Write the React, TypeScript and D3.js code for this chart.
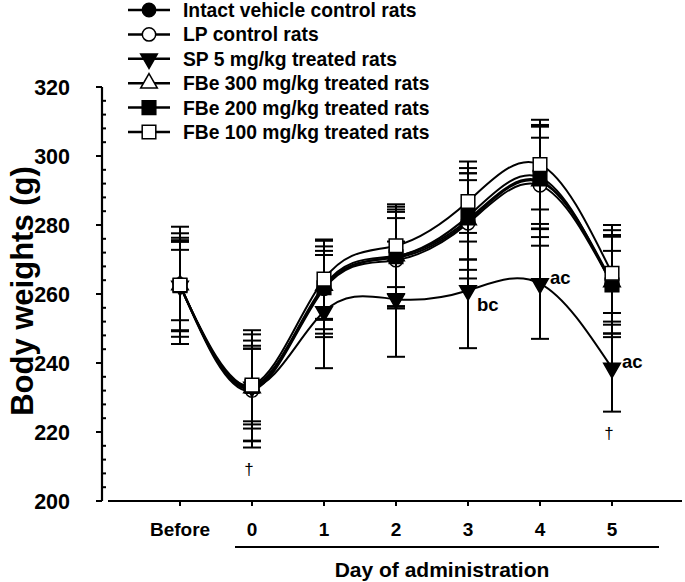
import React, { useEffect, useRef } from 'react';
import * as d3 from 'd3';

// x categories
const days = ['Before', '0', '1', '2', '3', '4', '5'];

// mean body weights (g)
const intactMean = [262.8, 232.5, 262.0, 270.5, 281.0, 292.5, 263.0];
const lpMean = [262.5, 232.0, 261.5, 269.8, 280.5, 291.5, 262.8];
const spMean = [262.3, 233.0, 254.9, 258.5, 261.0, 263.0, 238.5];
const fbe300Mean = [262.6, 232.8, 262.5, 271.0, 281.5, 292.8, 263.5];
const fbe200Mean = [262.4, 233.2, 261.8, 270.8, 282.5, 293.8, 262.6];
const fbe100Mean = [262.6, 233.6, 264.3, 274.0, 286.8, 297.5, 266.0];

// standard deviations
const intactSd = [13.5, 17.0, 13.5, 14.0, 14.0, 16.0, 15.5];
const lpSd = [17.0, 14.5, 14.0, 14.0, 16.0, 17.5, 14.3];
const spSd = [12.8, 12.0, 16.4, 16.7, 16.7, 16.0, 12.6];
const fbe300Sd = [10.2, 15.5, 10.0, 11.0, 11.5, 12.5, 9.0];
const fbe200Sd = [13.2, 11.0, 12.0, 14.5, 12.5, 15.0, 14.0];
const fbe100Sd = [15.0, 10.5, 11.5, 12.0, 11.6, 13.0, 14.0];

const seriesNames = [
  'Intact vehicle control rats',
  'LP control rats',
  'SP 5 mg/kg treated rats',
  'FBe 300 mg/kg treated rats',
  'FBe 200 mg/kg treated rats',
  'FBe 100 mg/kg treated rats',
];

const yTicks = [200, 220, 240, 260, 280, 300, 320];

// significance marks on the SP series
const spNotes = [
  { day: '3', text: 'bc' },
  { day: '4', text: 'ac' },
  { day: '5', text: 'ac' },
];
const daggerDays = ['0', '5'];

const FONT = '"Liberation Sans", Arial, Helvetica, sans-serif';

const App = () => {
  const svgRef = useRef<SVGSVGElement>(null);

  useEffect(() => {
    const svg = d3.select(svgRef.current);
    svg.selectAll('*').remove();

    const width = 685;
    const height = 582;
    svg.attr('width', width).attr('height', height);

    const x = d3.scalePoint<string>().domain(days).range([180, 612]);
    const y = d3.scaleLinear().domain([200, 320]).range([501, 87]);

    const series = [
      { name: seriesNames[0], mean: intactMean, sd: intactSd, shape: 'circle', fill: '#000' },
      { name: seriesNames[1], mean: lpMean, sd: lpSd, shape: 'circle', fill: '#fff' },
      { name: seriesNames[2], mean: spMean, sd: spSd, shape: 'triDown', fill: '#000' },
      { name: seriesNames[3], mean: fbe300Mean, sd: fbe300Sd, shape: 'triUp', fill: '#fff' },
      { name: seriesNames[4], mean: fbe200Mean, sd: fbe200Sd, shape: 'square', fill: '#000' },
      { name: seriesNames[5], mean: fbe100Mean, sd: fbe100Sd, shape: 'square', fill: '#fff' },
    ];

    const symbolFor = (shape: string) => {
      if (shape === 'circle') return d3.symbol().type(d3.symbolCircle).size(140)();
      if (shape === 'square') return d3.symbol().type(d3.symbolSquare).size(185)();
      return d3.symbol().type(d3.symbolTriangle).size(120)();
    };

    const drawMarker = (g: any, shape: string, fill: string, cx: number, cy: number) => {
      g.append('path')
        .attr('d', symbolFor(shape))
        .attr('transform', `translate(${cx},${cy})${shape === 'triDown' ? ' rotate(180)' : ''}`)
        .attr('fill', fill)
        .attr('stroke', '#000')
        .attr('stroke-width', 1.5);
    };

    // y axis: major ticks outward, minor ticks inward
    const axisX = 102;
    const yAxis = svg.append('g');
    yAxis.append('line')
      .attr('x1', axisX).attr('x2', axisX)
      .attr('y1', y(320)).attr('y2', y(200))
      .attr('stroke', '#000').attr('stroke-width', 2.2);
    yAxis.selectAll('.major')
      .data(yTicks)
      .join('line')
      .attr('x1', axisX - 6).attr('x2', axisX)
      .attr('y1', d => y(d)).attr('y2', d => y(d))
      .attr('stroke', '#000').attr('stroke-width', 2);
    yAxis.selectAll('.minor')
      .data(d3.range(200, 320, 4).filter(v => v % 20 !== 0))
      .join('line')
      .attr('x1', axisX).attr('x2', axisX + 4)
      .attr('y1', d => y(d)).attr('y2', d => y(d))
      .attr('stroke', '#000').attr('stroke-width', 2);
    yAxis.selectAll('text')
      .data(yTicks)
      .join('text')
      .attr('x', 70)
      .attr('y', d => y(d))
      .attr('dy', '0.36em')
      .attr('text-anchor', 'end')
      .attr('font-family', FONT)
      .attr('font-weight', 'bold')
      .attr('font-size', 21.5)
      .text(d => d);

    svg.append('text')
      .attr('transform', `translate(33,291) rotate(-90)`)
      .attr('text-anchor', 'middle')
      .attr('font-family', FONT)
      .attr('font-weight', 'bold')
      .attr('font-size', 31)
      .text('Body weights (g)');

    // x axis
    const xAxis = svg.append('g');
    xAxis.append('line')
      .attr('x1', 108).attr('x2', 682)
      .attr('y1', 501).attr('y2', 501)
      .attr('stroke', '#000').attr('stroke-width', 2.2);
    xAxis.selectAll('.tick')
      .data(days)
      .join('line')
      .attr('x1', d => x(d)!).attr('x2', d => x(d)!)
      .attr('y1', 501).attr('y2', 506)
      .attr('stroke', '#000').attr('stroke-width', 2);
    xAxis.selectAll('text')
      .data(days)
      .join('text')
      .attr('x', d => x(d)!)
      .attr('y', 536)
      .attr('text-anchor', 'middle')
      .attr('font-family', FONT)
      .attr('font-weight', 'bold')
      .attr('font-size', 19)
      .text(d => d);
    xAxis.append('line')
      .attr('x1', 235).attr('x2', 659)
      .attr('y1', 547).attr('y2', 547)
      .attr('stroke', '#000').attr('stroke-width', 2);
    xAxis.append('text')
      .attr('x', 442)
      .attr('y', 577)
      .attr('text-anchor', 'middle')
      .attr('font-family', FONT)
      .attr('font-weight', 'bold')
      .attr('font-size', 21)
      .text('Day of administration');

    // series: error bars, spline line, markers
    const line = d3.line<number>()
      .x((_, i) => x(days[i])!)
      .y(d => y(d))
      .curve(d3.curveNatural);

    series.forEach(s => {
      const g = svg.append('g');
      s.mean.forEach((m, i) => {
        const cx = x(days[i])!;
        const top = y(m + s.sd[i]);
        const bot = y(m - s.sd[i]);
        g.append('line')
          .attr('x1', cx).attr('x2', cx).attr('y1', top).attr('y2', bot)
          .attr('stroke', '#000').attr('stroke-width', 2);
        [top, bot].forEach(cy => {
          g.append('line')
            .attr('x1', cx - 9).attr('x2', cx + 9).attr('y1', cy).attr('y2', cy)
            .attr('stroke', '#000').attr('stroke-width', 2);
        });
      });
      g.append('path')
        .datum(s.mean)
        .attr('d', line)
        .attr('fill', 'none')
        .attr('stroke', '#000')
        .attr('stroke-width', 2);
      s.mean.forEach((m, i) => drawMarker(g, s.shape, s.fill, x(days[i])!, y(m)));
    });

    // significance letters and daggers
    spNotes.forEach(n => {
      const i = days.indexOf(n.day);
      const below = n.day === '3';
      svg.append('text')
        .attr('x', x(n.day)! + (below ? 9 : 10))
        .attr('y', y(spMean[i]) + (below ? 20 : 0))
        .attr('fill', '#000')
        .attr('font-family', FONT)
        .attr('font-weight', 'bold')
        .attr('font-size', 18.5)
        .text(n.text);
    });
    daggerDays.forEach(dd => {
      const i = days.indexOf(dd);
      const lowest = d3.min(series, s => s.mean[i] - s.sd[i])!;
      svg.append('text')
        .attr('x', x(dd)! - 3)
        .attr('y', y(lowest) + 27)
        .attr('text-anchor', 'middle')
        .attr('fill', '#000')
        .attr('font-family', FONT)
        .attr('font-size', 17)
        .text('\u2020');
    });

    // legend
    const legend = svg.append('g');
    series.forEach((s, i) => {
      const ly = 10 + i * 24.4;
      legend.append('line')
        .attr('x1', 128).attr('x2', 170).attr('y1', ly).attr('y2', ly)
        .attr('stroke', '#000').attr('stroke-width', 2.5);
      drawMarker(legend, s.shape, s.fill, 149, ly);
      legend.append('text')
        .attr('x', 183)
        .attr('y', ly)
        .attr('dy', '0.36em')
        .attr('font-family', FONT)
        .attr('font-weight', 'bold')
        .attr('font-size', 19.3)
        .text(s.name);
    });
  }, []);

  return <svg ref={svgRef} style={{ position: 'absolute', left: 0, top: 0 }}></svg>;
};

export default App;
